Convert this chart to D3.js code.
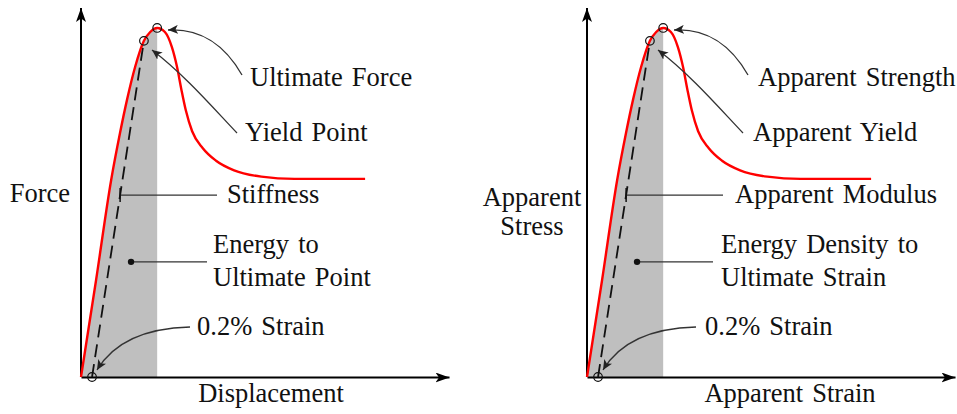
<!DOCTYPE html>
<html>
<head>
<meta charset="utf-8">
<script src="https://cdn.jsdelivr.net/npm/d3@7"></script>
<style>
  html, body { margin: 0; padding: 0; background: #fff; }
  svg { display: block; }
  text { font-family: "Liberation Serif", "Times New Roman", serif; font-size: 26.5px; fill: #111; word-spacing: 2.5px; }
</style>
</head>
<body>
<svg id="chart" width="957" height="414"></svg>
<script>
// Idealised load–deformation response (arbitrary units)
const curveStrain = [0, 0.41, 0.82, 1.06, 1.25, 1.47, 1.71, 1.88, 2.07, 2.28, 2.47, 2.61, 2.73, 2.85, 3.02, 3.31, 3.67, 4.16, 4.90, 5.80, 7.72];
const curveLoad   = [0, 2.63, 5.34, 6.61, 7.51, 8.40, 9.11, 9.35, 9.46, 9.35, 8.94, 8.40, 7.78, 7.22, 6.66, 6.20, 5.86, 5.60, 5.43, 5.37, 5.37];
const yieldIndex = 6;      // yield point on the curve
const peakIndex = 8;       // ultimate point
const offsetStrain = 0.30; // 0.2% offset origin of the stiffness line

// Labels for the structural (left) and material (right) versions
const xAxisTitles = ["Displacement", "Apparent Strain"];
const yAxisTitles = [["Force"], ["Apparent", "Stress"]];
const peakLabels = ["Ultimate Force", "Apparent Strength"];
const yieldLabels = ["Yield Point", "Apparent Yield"];
const slopeLabels = ["Stiffness", "Apparent Modulus"];
const energyLabels = [["Energy to", "Ultimate Point"], ["Energy Density to", "Ultimate Strain"]];
const offsetLabels = ["0.2% Strain", "0.2% Strain"];

const svg = d3.select("#chart");
const pts = curveStrain.map((s, i) => ({ s, f: curveLoad[i] }));

const x = d3.scaleLinear().domain([0, 10]).range([0, 368]);
const y = d3.scaleLinear().domain([0, 10]).range([377, 8]);

const defs = svg.append("defs");
function arrowMarker(id, len, half, color) {
  defs.append("marker")
    .attr("id", id)
    .attr("viewBox", `0 ${-half} ${len} ${2 * half}`)
    .attr("refX", len).attr("refY", 0)
    .attr("markerUnits", "userSpaceOnUse")
    .attr("markerWidth", len).attr("markerHeight", 2 * half)
    .attr("orient", "auto")
    .append("path")
    .attr("d", `M0,${-half} L${len},0 L0,${half} L${len * 0.25},0 Z`)
    .attr("fill", color);
}
arrowMarker("axisHead", 14, 5, "#000");
arrowMarker("noteHead", 10, 4.5, "#222");

const panelOffsets = [81, 587];

panelOffsets.forEach((ox, p) => {
  const g = svg.append("g").attr("transform", `translate(${ox},0)`);

  // energy area under the curve up to the ultimate point
  const area = d3.area()
    .x(d => x(d.s)).y0(y(0)).y1(d => y(d.f))
    .curve(d3.curveMonotoneX);
  g.append("path")
    .datum(pts.slice(0, peakIndex + 1))
    .attr("d", area)
    .attr("fill", "#bfbfbf");

  // axes with arrowheads, no ticks
  const xAxis = g.append("g").attr("transform", `translate(0,${y(0)})`)
    .call(d3.axisBottom(x).tickValues([]).tickSizeOuter(0));
  const yAxis = g.append("g")
    .call(d3.axisLeft(y).tickValues([]).tickSizeOuter(0));
  xAxis.select(".domain").attr("stroke", "#000").attr("stroke-width", 2).attr("marker-end", "url(#axisHead)");
  yAxis.select(".domain").attr("stroke", "#000").attr("stroke-width", 2)
    .attr("d", `M0,${y(0)}V${y.range()[1]}`).attr("marker-end", "url(#axisHead)");

  // offset stiffness line
  const yp = pts[yieldIndex];
  g.append("line")
    .attr("x1", x(offsetStrain)).attr("y1", y(0))
    .attr("x2", x(yp.s)).attr("y2", y(yp.f))
    .attr("stroke", "#111").attr("stroke-width", 1.8)
    .attr("stroke-dasharray", "13,7");

  // load curve
  g.append("path")
    .datum(pts)
    .attr("d", d3.line().x(d => x(d.s)).y(d => y(d.f)).curve(d3.curveMonotoneX))
    .attr("fill", "none").attr("stroke", "#f00").attr("stroke-width", 2.4);

  // marker circles
  [[offsetStrain, 0], [yp.s, yp.f], [pts[peakIndex].s, pts[peakIndex].f]].forEach(([s, f]) => {
    g.append("circle").attr("cx", x(s)).attr("cy", y(f)).attr("r", 4.3)
      .attr("fill", "none").attr("stroke", "#111").attr("stroke-width", 1.2);
  });

  // annotation arrows
  const notes = [
    "M161,75 C144,45 119,28 87,30",
    "M156,133 C134,110 104,75 71,50",
    "M109,327 C69,328 34,340 16,370"
  ];
  notes.forEach(d => g.append("path").attr("d", d)
    .attr("fill", "none").attr("stroke", "#333").attr("stroke-width", 1.3)
    .attr("marker-end", "url(#noteHead)"));

  // stiffness leader with end tick on the dashed line
  const tickS = offsetStrain + (yp.s - offsetStrain) * (4.93 / yp.f);
  g.append("line").attr("x1", x(tickS)).attr("y1", y(4.93)).attr("x2", 136).attr("y2", y(4.93))
    .attr("stroke", "#333").attr("stroke-width", 1.3);
  g.append("line").attr("x1", x(tickS)).attr("y1", y(4.93) - 7).attr("x2", x(tickS)).attr("y2", y(4.93) + 7)
    .attr("stroke", "#111").attr("stroke-width", 1.5);

  // energy leader with dot
  g.append("line").attr("x1", x(1.36)).attr("y1", y(3.12)).attr("x2", 126).attr("y2", y(3.12))
    .attr("stroke", "#333").attr("stroke-width", 1.3);
  g.append("circle").attr("cx", x(1.36)).attr("cy", y(3.12)).attr("r", 3.2).attr("fill", "#111");

  // texts
  const dxp = p === 0 ? 0 : 2;
  g.append("text").attr("x", 169 + dxp).attr("y", 86).text(peakLabels[p]);
  g.append("text").attr("x", 164 + dxp).attr("y", 141).text(yieldLabels[p]);
  g.append("text").attr("x", 146 + dxp).attr("y", 203).text(slopeLabels[p]);
  energyLabels[p].forEach((t, i) =>
    g.append("text").attr("x", 132 + dxp).attr("y", 253 + i * 33).text(t));
  g.append("text").attr("x", 116 + dxp).attr("y", 335).text(offsetLabels[p]);

  g.append("text").attr("x", p === 0 ? 190 : 203).attr("y", 402)
    .attr("text-anchor", "middle").text(xAxisTitles[p]);

  const yl = yAxisTitles[p];
  if (yl.length === 1) {
    g.append("text").attr("x", -11).attr("y", 202).attr("text-anchor", "end").text(yl[0]);
  } else {
    yl.forEach((t, i) => g.append("text").attr("x", -55).attr("y", 206 + i * 29)
      .attr("text-anchor", "middle").text(t));
  }
});
</script>
</body>
</html>
